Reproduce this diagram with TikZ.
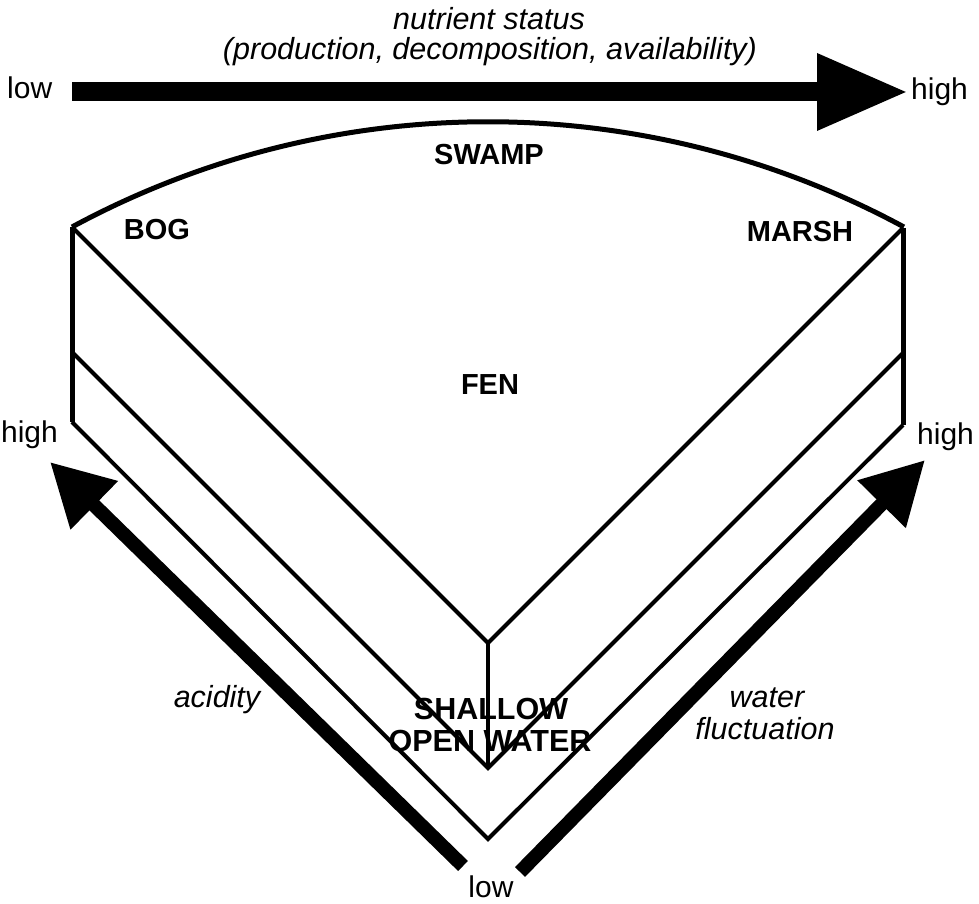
\documentclass[tikz,border=0pt]{standalone}
\usepackage{fontspec}
\setmainfont{Liberation Sans}
\usetikzlibrary{arrows.meta}
\begin{document}
\begin{tikzpicture}[x=1pt,y=1pt,
  edge/.style={line width=4pt, line join=miter},
  rim/.style={line width=5pt, line join=miter},
  bigarrow/.style={line width=19pt, -{Triangle[length=91pt,width=72pt]}},
  diagarrow/.style={line width=14pt, -{Triangle[length=62pt,width=64pt]}},
  lbl/.style={font=\fontsize{30}{32}\selectfont, inner sep=0pt},
  itl/.style={font=\fontsize{30.5}{32}\selectfont\itshape, inner sep=0pt},
  zone/.style={font=\fontsize{29}{32}\selectfont\bfseries, inner sep=0pt},
  water/.style={font=\fontsize{30.5}{32}\selectfont\bfseries, inner sep=0pt},
]
\useasboundingbox (0,0) rectangle (979,904);
% corners of the block
\coordinate (LT) at (72,677);
\coordinate (LM) at (72,552);
\coordinate (LB) at (72,482);
\coordinate (RT) at (903,676);
\coordinate (RM) at (903,551);
\coordinate (RB) at (903,479);
\coordinate (VT) at (488,261);
\coordinate (VM) at (488,136);
\coordinate (VB) at (488,65);
% block
\draw[rim] (LT) arc[start angle=118.4, end angle=61.6, radius=874.6];
\draw[rim] (LT) -- (LB);
\draw[rim] (RT) -- (RB);
\draw[edge] (LT) -- (VT) -- (RT);
\draw[edge] (VT) -- (VM);
\draw[edge] (LM) -- (VM) -- (RM);
\draw[edge] (LB) -- (VB) -- (RB);
% arrows
\coordinate (topS) at (72,812);
\coordinate (topE) at (908,812);
\draw[bigarrow] (topS) -- (topE);
\coordinate (acS) at (463,38);
\coordinate (acE) at (50,442);
\draw[diagarrow] (acS) -- (acE);
\coordinate (wfS) at (520,32);
\coordinate (wfE) at (925,444);
\draw[diagarrow] (wfS) -- (wfE);
% texts
\node[itl, anchor=base] (nut) at (489,874) {nutrient status};
\node[itl, anchor=base] (prod) at (490,844) {(production, decomposition, availability)};
\node[lbl, anchor=base west] (lowtop) at (7,805) {low};
\node[lbl, anchor=base west] (hightop) at (911,804) {high};
\node[zone, anchor=base] (swamp) at (489,739) {SWAMP};
\node[zone, anchor=base] (bog) at (157,664) {BOG};
\node[zone, anchor=base] (marsh) at (800,662) {MARSH};
\node[zone, anchor=base] (fen) at (490,509) {FEN};
\node[lbl, anchor=base east] (highl) at (58,461) {high};
\node[lbl, anchor=base west] (highr) at (917,459) {high};
\node[itl, anchor=base] (acid) at (217,196) {acidity};
\node[itl, anchor=base] (water) at (767,196) {water};
\node[itl, anchor=base] (fluct) at (765,164) {fluctuation};
\node[water, anchor=base] (shallow) at (491,184) {SHALLOW};
\node[water, anchor=base] (open) at (490,152) {OPEN WATER};
\node[lbl, anchor=base] (lowbot) at (491,6) {low};
\end{tikzpicture}
\end{document}
